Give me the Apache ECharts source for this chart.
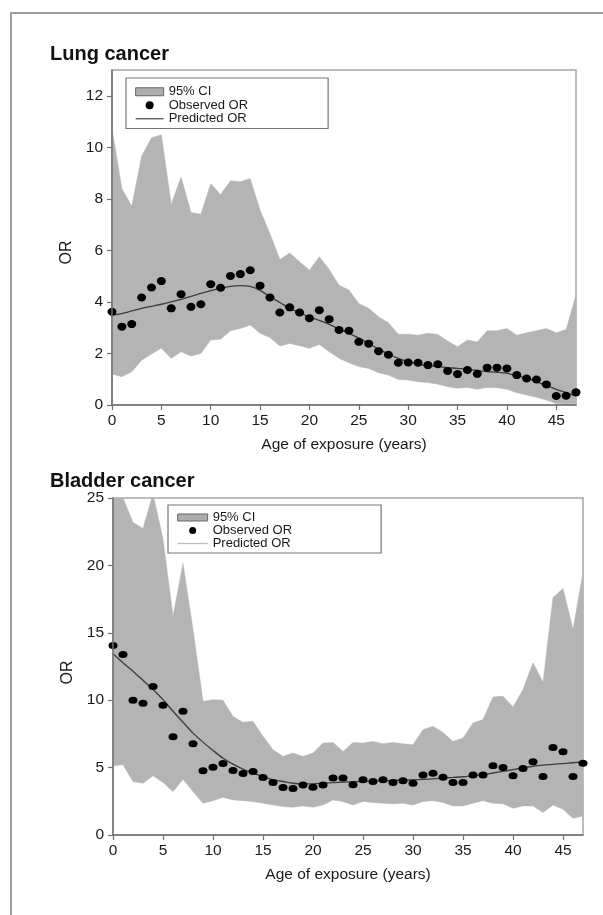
<!DOCTYPE html>
<html>
<head>
<meta charset="utf-8">
<script src="https://cdn.jsdelivr.net/npm/echarts@6/dist/echarts.min.js"></script>
<style>
html,body{margin:0;padding:0;background:#fff;}
#c{width:603px;height:915px;}
</style>
</head>
<body>
<div id="c"></div>
<script>
// ---------- data ----------
const ages = [0,1,2,3,4,5,6,7,8,9,10,11,12,13,14,15,16,17,18,19,20,21,22,23,24,25,26,27,28,29,30,31,32,33,34,35,36,37,38,39,40,41,42,43,44,45,46,47];

const lungObserved = [3.62,3.04,3.14,4.17,4.56,4.81,3.75,4.30,3.81,3.91,4.69,4.55,5.01,5.08,5.23,4.63,4.17,3.59,3.79,3.59,3.37,3.68,3.33,2.91,2.88,2.45,2.38,2.09,1.95,1.64,1.65,1.64,1.55,1.58,1.32,1.20,1.36,1.21,1.45,1.45,1.42,1.16,1.03,0.99,0.80,0.35,0.36,0.49];
const lungPredicted = [3.49,3.55,3.65,3.75,3.83,3.91,4.00,4.10,4.22,4.33,4.44,4.53,4.60,4.63,4.60,4.45,4.20,3.98,3.75,3.58,3.42,3.28,3.13,2.95,2.78,2.60,2.39,2.17,1.98,1.81,1.68,1.59,1.52,1.49,1.45,1.42,1.38,1.34,1.30,1.27,1.23,1.14,1.03,0.90,0.75,0.61,0.48,0.35];
const lungUpper = [10.72,8.40,7.71,9.65,10.37,10.49,7.79,8.85,7.47,7.40,8.59,8.17,8.70,8.66,8.79,7.56,6.65,5.65,5.90,5.56,5.23,5.75,5.26,4.65,4.46,3.94,3.75,3.42,3.19,2.75,2.75,2.71,2.78,2.74,2.48,2.26,2.52,2.44,2.88,2.88,2.97,2.71,2.80,2.88,2.97,2.80,2.93,4.26];
const lungLower = [1.20,1.10,1.29,1.74,1.98,2.20,1.81,2.07,1.90,2.00,2.52,2.55,2.88,2.97,3.10,2.78,2.62,2.29,2.39,2.30,2.20,2.35,2.07,1.81,1.64,1.49,1.42,1.25,1.16,0.99,0.97,0.90,0.87,0.81,0.71,0.65,0.68,0.61,0.68,0.67,0.61,0.48,0.39,0.30,0.19,0.06,0.04,0.06];

const bladderObserved = [14.06,13.39,10.00,9.77,11.01,9.62,7.29,9.18,6.77,4.76,5.03,5.31,4.79,4.56,4.71,4.27,3.89,3.52,3.45,3.70,3.55,3.70,4.22,4.22,3.72,4.09,3.97,4.09,3.89,4.02,3.84,4.46,4.59,4.29,3.89,3.89,4.46,4.46,5.13,5.01,4.39,4.94,5.43,4.34,6.50,6.18,4.34,5.33];
const bladderPredicted = [13.44,12.77,12.15,11.48,10.79,10.04,9.18,8.36,7.56,6.89,6.27,5.70,5.26,4.89,4.59,4.34,4.09,3.97,3.84,3.79,3.80,3.84,3.88,3.92,3.95,3.97,4.00,4.02,4.05,4.07,4.09,4.12,4.16,4.22,4.27,4.32,4.40,4.48,4.60,4.72,4.85,4.98,5.10,5.18,5.24,5.30,5.36,5.42];
const bladderUpper = [25.5,25.0,23.19,22.74,25.3,21.95,16.24,20.16,15.25,9.92,10.04,10.00,8.80,8.36,8.43,7.32,6.32,5.83,6.08,5.83,6.08,6.82,6.87,6.20,6.87,6.82,6.94,6.77,6.87,6.77,6.70,7.81,8.06,7.61,6.94,7.19,8.31,8.56,10.24,10.29,9.50,10.79,12.77,11.33,17.61,18.28,15.25,19.47];
const bladderLower = [5.13,5.21,3.97,3.84,4.39,3.89,3.22,4.14,3.22,2.36,2.55,2.80,2.60,2.55,2.48,2.36,2.23,2.11,2.06,2.16,2.06,2.23,2.60,2.48,2.23,2.48,2.41,2.36,2.31,2.36,2.23,2.48,2.55,2.41,2.16,2.16,2.36,2.55,2.36,2.31,1.98,2.16,2.16,1.66,2.23,1.91,1.24,1.41];

const xTicks = [0,5,10,15,20,25,30,35,40,45];
const lungYTicks = [0,2,4,6,8,10,12];
const bladderYTicks = [0,5,10,15,20,25];

const titles = ['Lung cancer', 'Bladder cancer'];
const xName = 'Age of exposure (years)';
const yName = 'OR';
const legendNames = ['95% CI', 'Observed OR', 'Predicted OR'];

// ---------- build ----------
const FONT = '"Liberation Sans", Arial, Helvetica, sans-serif';
const TXT = '#1a1a1a';
const BAND = '#b4b4b4';
const pairs = (ys) => ages.map((a, i) => [a, ys[i]]);
const ELLIPSE = 'path://M0,4a5,4 0 1,0 10,0a5,4 0 1,0 -10,0z';

function xAxisCfg(gi) {
  return {
    type: 'value', gridIndex: gi, min: 0, max: 47, z: 6,
    name: xName, nameLocation: 'middle', nameGap: 32,
    nameTextStyle: {fontFamily: FONT, fontSize: 15.5, color: TXT},
    axisLine: {show: true, lineStyle: {color: '#707070', width: 1.5}},
    axisTick: {show: true, length: 5, customValues: xTicks, lineStyle: {color: '#707070', width: 1.2}},
    axisLabel: {customValues: xTicks, margin: 8, fontFamily: FONT, fontSize: 15.5, color: TXT},
    splitLine: {show: false}
  };
}
function yAxisCfg(gi, max, ticks, namePad) {
  return {
    type: 'value', gridIndex: gi, min: 0, max: max, z: 6,
    name: yName, nameLocation: 'middle', nameGap: 37, nameRotate: 90,
    nameTextStyle: {fontFamily: FONT, fontSize: 16, color: TXT, padding: namePad},
    axisLine: {show: true, lineStyle: {color: '#707070', width: 1.5}},
    axisTick: {show: true, length: 5, customValues: ticks, lineStyle: {color: '#707070', width: 1.2}},
    axisLabel: {customValues: ticks, margin: 9, fontFamily: FONT, fontSize: 15.5, color: TXT},
    splitLine: {show: false}
  };
}
function bandSeries(gi, up, lo) {
  return {
    name: '95% CI', type: 'custom', xAxisIndex: gi, yAxisIndex: gi, clip: true, silent: true, z: 1,
    itemStyle: {color: BAND},
    data: ages.map((a, i) => [a, lo[i], up[i]]),
    encode: {x: 0, y: [1, 2]},
    renderItem: function (params, api) {
      if (params.dataIndex !== 0) return null;
      const pts = [];
      for (let i = 0; i < ages.length; i++) pts.push(api.coord([ages[i], up[i]]));
      for (let i = ages.length - 1; i >= 0; i--) pts.push(api.coord([ages[i], lo[i]]));
      return {
        type: 'polygon', shape: {points: pts},
        style: {fill: BAND, stroke: BAND, lineWidth: 0.5}
      };
    }
  };
}
function seriesFor(gi, obs, pred, up, lo, dot) {
  return [
    bandSeries(gi, up, lo),
    {name: 'Predicted OR', type: 'line', xAxisIndex: gi, yAxisIndex: gi, data: pairs(pred),
     symbol: 'none', smooth: 0.3, lineStyle: {color: '#3c3c3c', width: 1.3}, itemStyle: {color: '#3c3c3c'}, z: 3},
    {name: 'Observed OR', type: 'scatter', xAxisIndex: gi, yAxisIndex: gi, data: pairs(obs),
     symbol: ELLIPSE, symbolSize: dot, itemStyle: {color: '#000', opacity: 1}, z: 4}
  ];
}
function legendCfg(left, top, pad, predColor, lh, iw, ih) {
  return {
    left: left, top: top, orient: 'vertical', itemGap: 0, itemWidth: iw, itemHeight: ih,
    padding: pad, borderColor: '#777', borderWidth: 1.2, backgroundColor: '#fff',
    selectedMode: false, z: 8,
    textStyle: {fontFamily: FONT, fontSize: 13, color: TXT, lineHeight: lh},
    data: [
      {name: legendNames[0], icon: 'rect', itemStyle: {color: '#adadad', borderColor: '#666', borderWidth: 1}},
      {name: legendNames[1], icon: 'circle', itemStyle: {color: '#000'}},
      {name: legendNames[2], itemStyle: {opacity: 0}, lineStyle: {color: predColor, width: 1.3}}
    ]
  };
}

const option = {
  animation: false,
  backgroundColor: '#fff',
  graphic: [{type: 'rect', shape: {x: 11, y: 13, width: 700, height: 1000},
             style: {fill: 'none', stroke: '#9c9c9c', lineWidth: 2}, silent: true}],
  title: [
    {text: titles[0], left: 45, top: 39, textStyle: {fontFamily: FONT, fontSize: 20, fontWeight: 'bold', color: '#111'}},
    {text: titles[1], left: 45, top: 466, textStyle: {fontFamily: FONT, fontSize: 20, fontWeight: 'bold', color: '#111'}}
  ],
  legend: [
    legendCfg(126, 78, [7, 80, 3, 9], '#555', 13.5, 28, 8),
    legendCfg(168, 505, [6, 89, 3, 9], '#bdbdbd', 12.5, 30, 7)
  ],
  grid: [
    {left: 112, right: 27, top: 70, height: 335, show: true, borderColor: '#a8a8a8', borderWidth: 1.5, containLabel: false},
    {left: 113, right: 20, top: 498, height: 337, show: true, borderColor: '#a8a8a8', borderWidth: 1.5, containLabel: false}
  ],
  xAxis: [xAxisCfg(0), xAxisCfg(1)],
  yAxis: [yAxisCfg(0, 13, lungYTicks, [0, 30, 0, 0]), yAxisCfg(1, 25, bladderYTicks, [0, 12, 0, 0])],
  series: [].concat(
    seriesFor(0, lungObserved, lungPredicted, lungUpper, lungLower, [9, 8]),
    seriesFor(1, bladderObserved, bladderPredicted, bladderUpper, bladderLower, [9, 7])
  )
};

const chart = echarts.init(document.getElementById('c'), null, {renderer: 'canvas'});
chart.setOption(option);
</script>
</body>
</html>
